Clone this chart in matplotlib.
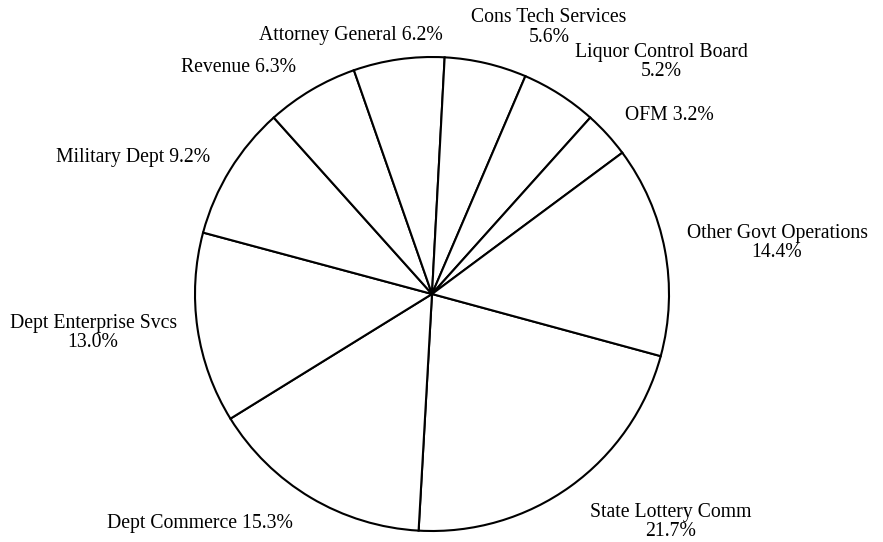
import matplotlib.pyplot as plt

# agency share of spending, clockwise from the lower right
departments = ['State Lottery Comm', 'Dept Commerce', 'Dept Enterprise Svcs',
               'Military Dept', 'Revenue', 'Attorney General',
               'Cons Tech Services', 'Liquor Control Board', 'OFM',
               'Other Govt Operations']
shares = [21.7, 15.3, 13.0, 9.2, 6.3, 6.2, 5.6, 5.2, 3.2, 14.4]

# how name and percent are joined, and where each label sits (pie radius units)
label_sep = ['\n', ' ', '\n', ' ', ' ', ' ', '\n', '\n', ' ', '\n']
label_xy = [(1.008, -0.962), (-0.979, -0.970), (-1.430, -0.165),
            (-1.262, 0.578), (-0.816, 0.954), (-0.342, 1.089),
            (0.494, 1.124), (0.966, 0.979), (1.000, 0.755),
            (1.456, 0.215)]

W, H = 883, 542
cx, cy, r = 432, 294, 237  # pie centre and radius in pixels

fig = plt.figure(figsize=(W / 100, H / 100), dpi=100)
ax = fig.add_axes([0, 0, 1, 1])

ax.pie(shares, startangle=-15.2, counterclock=False,
       colors=['white'] * len(shares),
       wedgeprops=dict(edgecolor='black', linewidth=1.5))

for name, val, sep, (x, y) in zip(departments, shares, label_sep, label_xy):
    ax.text(x, y, f'{name}{sep}{val:.1f}%', ha='center', va='center',
            multialignment='center', family='Liberation Serif',
            fontsize=14.2, linespacing=1.05, color='black')

ax.set_xlim(-cx / r, (W - cx) / r)
ax.set_ylim(-(H - cy) / r, cy / r)
ax.set_aspect('auto')
ax.axis('off')

fig.savefig('out.png', dpi=100, facecolor='white')
